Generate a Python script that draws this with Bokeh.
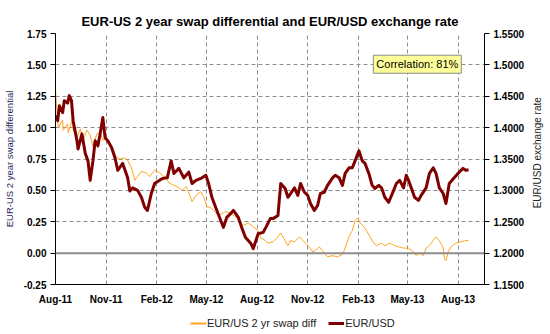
import math
import pandas as pd
from bokeh.plotting import figure
from bokeh.layouts import column, row
from bokeh.models import (Range1d, LinearAxis, FixedTicker, DatetimeTickFormatter,
                          NumeralTickFormatter, Span, Label, Legend, LegendItem)
from bokeh.embed import file_html
from bokeh.resources import INLINE

# ---------------- data ----------------
start_date = "2011-08-01"
end_date = "2013-09-18"

# EUR/USD exchange rate: day offsets from start_date and values
fx_days = [0, 4, 7, 13, 16, 22, 25, 29, 32, 39, 41, 48, 54, 59, 63, 68, 72, 77, 81, 86,
           90, 95, 102, 108, 113, 122, 131, 135, 140, 149, 156, 162, 167, 174, 180, 189, 194,
           203, 210, 215, 224, 233, 242, 248, 255, 264, 273, 278, 284, 293, 300, 305, 311,
           318, 323, 332, 338, 345, 350, 355, 359, 368, 377, 382, 390, 395, 404, 409, 417,
           422, 427, 434, 440, 445, 452, 458, 463, 470, 476, 481, 488, 494, 503, 508, 515,
           521, 526, 533, 539, 544, 551, 557, 562, 569, 575, 580, 587, 592, 598, 605, 614,
           619, 625, 632, 637, 641, 646, 652, 659, 664, 673, 679, 686, 691, 697, 704, 709,
           715, 724, 732, 740, 745, 750]
fx_rate = [1.419, 1.411, 1.435, 1.424, 1.443, 1.439, 1.451, 1.443, 1.411, 1.379, 1.366,
           1.390, 1.359, 1.347, 1.316, 1.347, 1.379, 1.371, 1.390, 1.416, 1.384, 1.379,
           1.368, 1.352, 1.332, 1.343, 1.320, 1.299, 1.304, 1.300, 1.289, 1.273, 1.268,
           1.295, 1.311, 1.316, 1.319, 1.320, 1.347, 1.327, 1.335, 1.320, 1.329, 1.311,
           1.316, 1.319, 1.324, 1.311, 1.289, 1.268, 1.252, 1.241, 1.257, 1.263, 1.268,
           1.257, 1.241, 1.225, 1.220, 1.215, 1.207, 1.231, 1.233, 1.241, 1.255, 1.255,
           1.260, 1.311, 1.303, 1.289, 1.295, 1.304, 1.292, 1.311, 1.297, 1.292, 1.279,
           1.268, 1.276, 1.295, 1.297, 1.308, 1.320, 1.324, 1.320, 1.308, 1.327, 1.336,
           1.336, 1.347, 1.363, 1.347, 1.343, 1.327, 1.308, 1.303, 1.308, 1.304, 1.289,
           1.281, 1.300, 1.311, 1.316, 1.304, 1.324, 1.316, 1.304, 1.289, 1.284, 1.292,
           1.304, 1.327, 1.336, 1.327, 1.304, 1.295, 1.279, 1.311, 1.320, 1.328, 1.335,
           1.332, 1.333]

# EUR-US 2 year swap differential: day offsets and values
swap_days = [0, 4, 5, 13, 14, 22, 23, 31, 32, 39, 45, 50, 57, 63, 68, 75, 81, 86, 93, 99,
             104, 111, 117, 126, 131, 138, 144, 149, 156, 165, 171, 180, 189, 194, 201, 206,
             215, 224, 230, 237, 242, 248, 255, 264, 269, 275, 282, 287, 296, 309, 318, 329,
             341, 350, 359, 368, 373, 381, 386, 395, 404, 409, 417, 422, 427, 434, 443, 449,
             454, 461, 467, 472, 479, 485, 494, 503, 512, 521, 526, 533, 539, 544, 549, 553,
             560, 566, 571, 578, 583, 592, 598, 607, 616, 623, 632, 641, 650, 655, 661, 668,
             673, 679, 686, 691, 697, 704, 706, 709, 713, 718, 727, 736, 745, 750]
swap_diff = [1.31, 1.04, 1.00, 1.06, 0.98, 1.03, 0.96, 1.07, 0.98, 0.92, 0.99, 0.90, 0.98,
             0.94, 0.85, 0.95, 0.96, 0.90, 0.92, 0.85, 0.82, 0.76, 0.75, 0.76, 0.74, 0.68,
             0.58, 0.61, 0.65, 0.64, 0.61, 0.66, 0.64, 0.62, 0.60, 0.56, 0.54, 0.52, 0.50,
             0.53, 0.48, 0.41, 0.46, 0.49, 0.45, 0.37, 0.36, 0.34, 0.30, 0.33, 0.32, 0.28,
             0.22, 0.24, 0.21, 0.18, 0.12, 0.10, 0.08, 0.09, 0.13, 0.16, 0.10, 0.06, 0.10,
             0.09, 0.13, 0.10, 0.08, 0.05, 0.01, 0.02, 0.05, 0.02, -0.03, -0.02, -0.03,
             -0.01, 0.04, 0.13, 0.18, 0.26, 0.28, 0.24, 0.21, 0.17, 0.13, 0.08, 0.06, 0.08,
             0.06, 0.08, 0.06, 0.05, 0.04, 0.04, 0.01, -0.02, 0.00, -0.02, 0.04, 0.06, 0.10,
             0.13, 0.10, 0.04, -0.04, -0.06, 0.01, 0.05, 0.08, 0.09, 0.10, 0.10]

tick_dates = ["2011-08-01", "2011-11-01", "2012-02-01", "2012-05-01", "2012-08-01",
              "2012-11-01", "2013-02-01", "2013-05-01", "2013-08-01"]
tick_labels = ["Aug-11", "Nov-11", "Feb-12", "May-12", "Aug-12", "Nov-12", "Feb-13",
               "May-13", "Aug-13"]
left_ticks = [-0.25, 0.0, 0.25, 0.5, 0.75, 1.0, 1.25, 1.5, 1.75]
right_ticks = [1.15, 1.20, 1.25, 1.30, 1.35, 1.40, 1.45, 1.50, 1.55]

title_text = "EUR-US 2 year swap differential and EUR/USD exchange rate"
left_label = "EUR-US 2 year swap differential"
right_label = "EUR/USD exchange rate"
swap_name = "EUR/US 2 yr swap diff"
fx_name = "EUR/USD"
corr_text = "Correlation: 81%"

SWAP_COLOR = "#FFA520"
FX_COLOR = "#800000"

# ---------------- build ----------------
start = pd.Timestamp(start_date)
fx_dates = start + pd.to_timedelta(fx_days, unit="D")
swap_dates = start + pd.to_timedelta(swap_days, unit="D")
tick_ms = [pd.Timestamp(d).value / 1e6 for d in tick_dates]

FONT = "Liberation Sans"

p = figure(width=527, height=310, x_axis_type="datetime",
           x_range=Range1d(start, pd.Timestamp(end_date)),
           y_range=Range1d(-0.25, 1.75),
           output_backend="svg", toolbar_location=None,
           min_border_left=50, min_border_right=43, min_border_top=33, min_border_bottom=26,
           title=title_text)
p.outline_line_color = None
p.background_fill_color = "white"
p.border_fill_color = "white"

p.title.text_font = FONT
p.title.text_font_size = "13px"
p.title.text_font_style = "bold"
p.title.align = "center"
p.title.text_color = "black"
p.title.offset = 11

p.extra_y_ranges = {"fx": Range1d(1.15, 1.55)}

# grid
p.xgrid.ticker = FixedTicker(ticks=tick_ms)
p.ygrid.ticker = FixedTicker(ticks=left_ticks)
for g in (p.xgrid, p.ygrid):
    g.grid_line_color = "#8c8c8c"
    g.grid_line_dash = "4 3"
    g.grid_line_width = 1

p.add_layout(Span(location=0, dimension="width", line_color="#8c8c8c", line_width=2))

# axes
xa = p.xaxis[0]
xa.ticker = FixedTicker(ticks=tick_ms)
xa.formatter = DatetimeTickFormatter(days="%b-%y", months="%b-%y", years="%b-%y",
                                     hours="%b-%y", minutes="%b-%y", seconds="%b-%y",
                                     milliseconds="%b-%y", microseconds="%b-%y",
                                     hourmin="%b-%y", minsec="%b-%y")
xa.major_tick_out = 0
xa.major_tick_in = 0
xa.major_label_standoff = 9

ya = p.yaxis[0]
ya.ticker = FixedTicker(ticks=left_ticks)
ya.formatter = NumeralTickFormatter(format="0.00")
ya.axis_label = left_label

ra = LinearAxis(y_range_name="fx", ticker=FixedTicker(ticks=right_ticks),
                formatter=NumeralTickFormatter(format="0.0000"))
p.add_layout(ra, "right")

for ax in (xa, ya, ra):
    ax.axis_line_color = "black"
    ax.axis_line_width = 1
    ax.major_label_text_font = FONT
    ax.major_label_text_font_size = "10px"
    ax.major_label_text_font_style = "bold"
    ax.major_label_text_color = "black"
    ax.axis_label_text_font = FONT
    ax.axis_label_text_font_style = "normal"
    ax.minor_tick_out = 0
    ax.minor_tick_in = 0
for ax in (ya, ra):
    ax.major_tick_out = 5
    ax.major_tick_in = 0
    ax.major_tick_line_color = "black"
    ax.major_label_standoff = 4
    ax.axis_label_standoff = 6
ya.axis_label_text_font_size = "9.5px"
ya.axis_label_text_color = "#1f1f5a"

# lines
p.line(swap_dates, swap_diff, line_color=SWAP_COLOR, line_width=1)
p.line(fx_dates, fx_rate, line_color=FX_COLOR, line_width=3, y_range_name="fx",
       line_join="round")

# correlation box
corr_x = start + pd.Timedelta(days=657)
p.add_layout(Label(x=corr_x, y=1.505, text=corr_text, text_font=FONT, text_font_size="11px",
                   text_color="black", text_align="center", text_baseline="middle",
                   background_fill_color="#FFFF99", border_line_color="#8c8c8c",
                   border_line_width=1, padding=3))

# right-hand axis title (reads bottom to top), in a narrow strip
r = figure(width=23, height=310, x_range=Range1d(0, 1), y_range=Range1d(1.15, 1.55),
           output_backend="svg", toolbar_location=None,
           x_axis_location=None, y_axis_location=None, min_border=0)
r.outline_line_color = None
r.xgrid.visible = False
r.ygrid.visible = False
r.add_layout(Label(x=0.45, y=1.36, text=right_label, angle=math.pi / 2,
                   text_font=FONT, text_font_size="10px", text_color="#222222",
                   text_align="center", text_baseline="middle"))

# legend strip below the chart (series drawn outside its view, only the legend shows)
q = figure(width=550, height=24, x_range=Range1d(-1000, -900), y_range=Range1d(-1000, -900),
           output_backend="svg", toolbar_location=None,
           x_axis_location=None, y_axis_location=None, min_border=0)
q.outline_line_color = None
q.xgrid.visible = False
q.ygrid.visible = False
l_swap = q.line(x=swap_days, y=swap_diff, line_color=SWAP_COLOR, line_width=2)
l_fx = q.line(x=fx_days, y=fx_rate, line_color=FX_COLOR, line_width=3)
legend = Legend(items=[LegendItem(label=swap_name, renderers=[l_swap]),
                       LegendItem(label=fx_name, renderers=[l_fx])],
                orientation="horizontal", location=(190, 5))
legend.label_text_font = FONT
legend.label_text_font_size = "11px"
legend.label_text_color = "#222222"
legend.border_line_color = None
legend.background_fill_alpha = 0
legend.glyph_width = 16
legend.glyph_height = 12
legend.label_standoff = 1
legend.spacing = 12
legend.padding = 0
legend.margin = 0
legend.label_height = 12
q.add_layout(legend, "center")

layout = column(row(p, r, spacing=0), q, spacing=0)
open("out.html", "w").write(file_html(layout, INLINE))
